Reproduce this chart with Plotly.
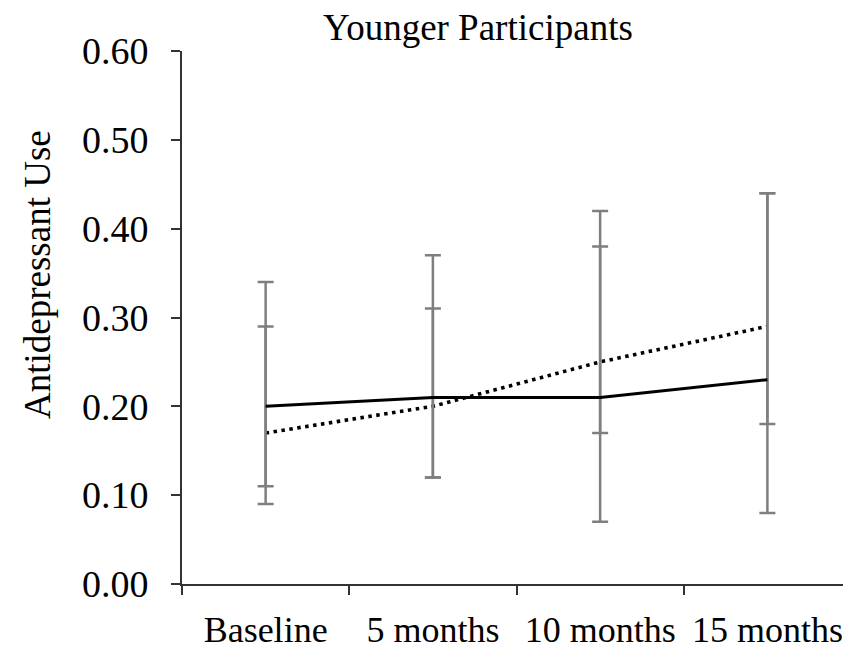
import plotly.graph_objects as go

categories = ["Baseline", "5 months", "10 months", "15 months"]
solid_vals = [0.20, 0.21, 0.21, 0.23]
solid_hi = [0.29, 0.31, 0.38, 0.44]
solid_lo = [0.11, 0.12, 0.17, 0.18]
dotted_vals = [0.17, 0.20, 0.25, 0.29]
dotted_hi = [0.34, 0.37, 0.42, 0.44]
dotted_lo = [0.09, 0.12, 0.07, 0.08]
y_ticks = [0.0, 0.1, 0.2, 0.3, 0.4, 0.5, 0.6]
y_ticktext = ["0.00", "0.10", "0.20", "0.30", "0.40", "0.50", "0.60"]

FONT = "Liberation Serif, Times New Roman, serif"
ERR = "#7f7f7f"

def err(vals, hi, lo):
    return dict(type="data", symmetric=False,
                array=[h - v for h, v in zip(hi, vals)],
                arrayminus=[v - l for v, l in zip(vals, lo)],
                color=ERR, thickness=2.5, width=8)

fig = go.Figure()
fig.add_trace(go.Scatter(x=categories, y=dotted_vals, mode="lines",
                         line=dict(color="black", width=3.6, dash="3.5px,4.5px"),
                         error_y=err(dotted_vals, dotted_hi, dotted_lo),
                         showlegend=False))
fig.add_trace(go.Scatter(x=categories, y=solid_vals, mode="lines",
                         line=dict(color="black", width=3),
                         error_y=err(solid_vals, solid_hi, solid_lo),
                         showlegend=False))

# page body has an 8px margin, so the figure is sized to fit inside 851x650
fig.update_layout(
    width=843, height=642,
    margin=dict(l=174, r=0, t=43, b=66, autoexpand=False),
    paper_bgcolor="white", plot_bgcolor="white",
    font=dict(family=FONT, color="black"),
    title=dict(text="Younger Participants", x=0.5575, xanchor="center",
               y=0.970, yanchor="middle", font=dict(size=37, family=FONT)),
    xaxis=dict(type="category", range=[-0.5, len(categories) - 0.5],
               tickson="boundaries", ticks="outside",
               ticklen=9, tickwidth=2, tickcolor="#333",
               showline=True, linecolor="#333", linewidth=2,
               showgrid=False, zeroline=False, automargin=False,
               tickfont=dict(size=36, family=FONT), ticklabelstandoff=13),
    yaxis=dict(range=[0, 0.6], tickvals=y_ticks, ticktext=y_ticktext,
               ticks="outside", ticklen=9, tickwidth=2, tickcolor="#333",
               showline=True, linecolor="#333", linewidth=2,
               showgrid=False, zeroline=False, automargin=False,
               tickfont=dict(size=38, family=FONT), ticklabelstandoff=15),
    annotations=[dict(text="Antidepressant Use", textangle=-90,
                      xref="paper", yref="paper", x=-0.215, y=0.58,
                      xanchor="center", yanchor="middle", showarrow=False,
                      font=dict(size=37, family=FONT))],
)

fig.write_html("out.html")
